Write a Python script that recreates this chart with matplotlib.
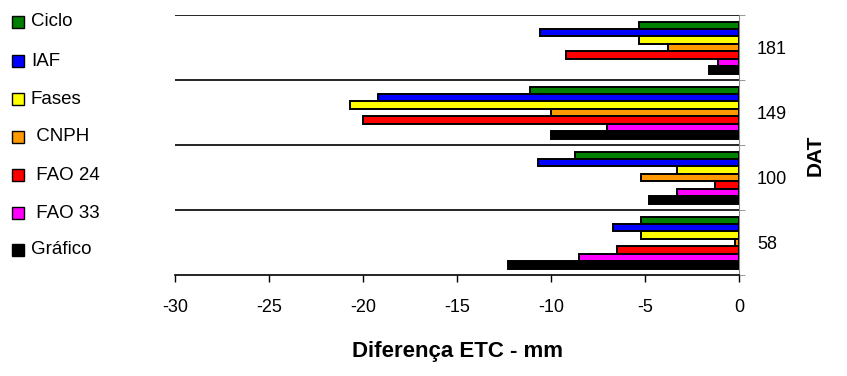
import matplotlib
matplotlib.use("Agg")
import numpy as np
from matplotlib import pyplot as plt
from matplotlib.lines import Line2D

plt.rcParams['font.family'] = ['Liberation Sans', 'DejaVu Sans']
plt.rcParams['axes.unicode_minus'] = False

# DAT (de baixo para cima)
dat = ['58', '100', '149', '181']

series = ['Ciclo', 'IAF', 'Fases', ' CNPH', ' FAO 24', ' FAO 33', 'Gráfico']
cores = ['#008000', '#0000ff', '#ffff00', '#ff9900', '#ff0000', '#ff00ff', '#000000']

ciclo   = [-5.2, -8.7, -11.1, -5.3]
iaf     = [-6.7, -10.7, -19.2, -10.6]
fases   = [-5.2, -3.3, -20.7, -5.3]
cnph    = [-0.2, -5.2, -10.0, -3.8]
fao24   = [-6.5, -1.3, -20.0, -9.2]
fao33   = [-8.5, -3.3, -7.0, -1.1]
grafico = [-12.3, -4.8, -10.0, -1.6]

valores = [ciclo, iaf, fases, cnph, fao24, fao33, grafico]

fig = plt.figure(figsize=(8.47, 3.76), dpi=100)
ax = fig.add_axes([175 / 847, 1 - 275 / 376, (739 - 175) / 847, 260 / 376])

y = np.arange(len(dat))
h = 0.8 / 7
for i, (v, c) in enumerate(zip(valores, cores)):
    off = 0.4 - h / 2 - i * h
    ax.barh(y + off, v, height=h, color=c, edgecolor='black', linewidth=1.4, zorder=3)

ax.set_xlim(-30, 0)
ax.set_ylim(-0.5, 3.5)
for b in [0.5, 1.5, 2.5, 3.5]:
    ax.axhline(b, color='black', linewidth=1.2, zorder=1)

ax.set_xticks(np.arange(-30, 1, 5))
ax.tick_params(axis='x', direction='out', length=5, width=1, labelsize=13, pad=12)

ax.yaxis.tick_right()
ax.set_yticks(y)
ax.set_yticklabels(dat)
ax.set_yticks([-0.5, 0.5, 1.5, 2.5, 3.5], minor=True)
ax.tick_params(axis='y', which='major', length=0, labelsize=13, pad=13)
ax.tick_params(axis='y', which='minor', length=4, color='#888888')

for s in ['top', 'left']:
    ax.spines[s].set_visible(False)
ax.spines['right'].set_color('#888888')
ax.spines['bottom'].set_linewidth(1.2)

ax.set_xlabel('Diferença ETC - mm', fontsize=16, fontweight='bold', labelpad=18)
fig.text(815 / 847, 1 - 155 / 376, 'DAT', rotation=90, fontsize=15, fontweight='bold',
         ha='center', va='center')

# legenda manual
ys_leg = [22, 61, 99, 137, 175, 213, 250]
for nome, c, yl in zip(series, cores, ys_leg):
    yf = 1 - yl / 376
    fig.add_artist(Line2D([18 / 847], [yf], marker='s', markersize=8, color=c,
                          markeredgecolor='black', markeredgewidth=1, linestyle='none',
                          transform=fig.transFigure))
    fig.text(31 / 847, yf, nome, fontsize=13.5, va='center', ha='left')

fig.savefig('out.png', dpi=100)
